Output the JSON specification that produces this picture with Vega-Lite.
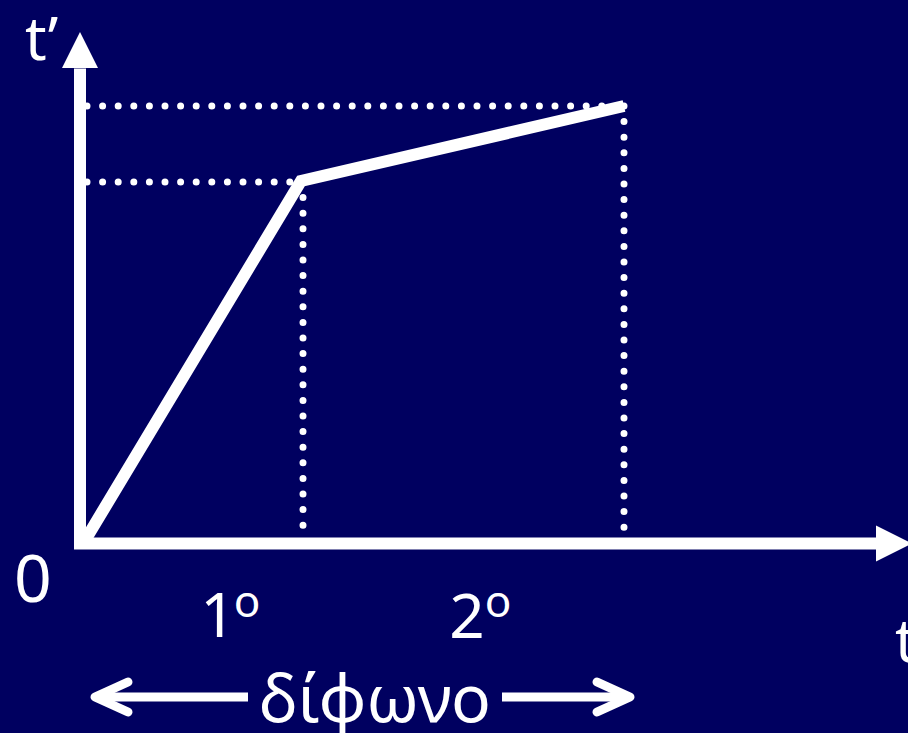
{
  "$schema": "https://vega.github.io/schema/vega-lite/v6.json",
  "width": 908,
  "height": 733,
  "padding": 0,
  "autosize": {"type": "none"},
  "background": "#000060",
  "config": {"view": {"stroke": null}, "font": "Noto Sans"},
  "datasets": {
    "axes": [
      {"name": "yaxis", "x": 0, "y": -0.055, "x2": 0, "y2": 4.75},
      {"name": "xaxis", "x": -0.06, "y": 0, "x2": 8.0, "y2": 0}
    ],
    "curve": [
      {"t": 0.05, "tp": 0.03},
      {"t": 2.21, "tp": 3.625},
      {"t": 5.44, "tp": 4.375}
    ],
    "guides": [
      {"x": 0.07, "y": 4.375, "x2": 5.44, "y2": 4.375},
      {"x": 0.07, "y": 3.615, "x2": 2.23, "y2": 3.615},
      {"x": 2.23, "y": 3.615, "x2": 2.23, "y2": 0.135},
      {"x": 5.44, "y": 4.375, "x2": 5.44, "y2": 0.135}
    ],
    "shafts": [
      {"x": 0.15, "y": -1.535, "x2": 1.68, "y2": -1.535},
      {"x": 4.22, "y": -1.535, "x2": 5.5, "y2": -1.535}
    ],
    "chevrons": [
      {"g": "left", "o": 1, "x": 0.48, "y": -1.385},
      {"g": "left", "o": 2, "x": 0.15, "y": -1.535},
      {"g": "left", "o": 3, "x": 0.48, "y": -1.685},
      {"g": "right", "o": 1, "x": 5.17, "y": -1.385},
      {"g": "right", "o": 2, "x": 5.5, "y": -1.535},
      {"g": "right", "o": 3, "x": 5.17, "y": -1.685}
    ],
    "heads": [
      {"dir": "up", "x": 0, "y": 4.935},
      {"dir": "right", "x": 8.14, "y": 0}
    ],
    "labels": [
      {"kind": "axis", "label": "t’", "x": -0.55, "y": 4.835},
      {"kind": "axis", "label": "t", "x": 8.15, "y": -1.185},
      {"kind": "zero", "label": "0", "x": -0.66, "y": -0.585},
      {"kind": "num", "label": "1", "x": 1.38, "y": -0.935},
      {"kind": "num", "label": "2", "x": 3.87, "y": -0.945},
      {"kind": "sup", "label": "ο", "x": 1.67, "y": -0.735},
      {"kind": "sup", "label": "ο", "x": 4.18, "y": -0.735},
      {"kind": "word", "label": "δίφωνο", "x": 2.95, "y": -1.785}
    ]
  },
  "encoding": {
    "x": {"field": "x", "type": "quantitative", "axis": null, "scale": {"domain": [-0.8, 8.28], "nice": false, "zero": false}},
    "y": {"field": "y", "type": "quantitative", "axis": null, "scale": {"domain": [-1.895, 5.435], "nice": false, "zero": false}}
  },
  "layer": [
    {
      "data": {"name": "guides"},
      "mark": {"type": "rule", "color": "white", "strokeWidth": 7, "strokeDash": [0, 15.6], "strokeCap": "round", "clip": false},
      "encoding": {"x2": {"field": "x2"}, "y2": {"field": "y2"}}
    },
    {
      "data": {"name": "axes"},
      "mark": {"type": "rule", "color": "white", "strokeWidth": 12, "strokeCap": "butt", "clip": false},
      "encoding": {"x2": {"field": "x2"}, "y2": {"field": "y2"}}
    },
    {
      "data": {"name": "heads"},
      "transform": [{"filter": "datum.dir == 'up'"}],
      "mark": {"type": "point", "shape": "M0,-1L1,1L-1,1Z", "filled": true, "color": "white", "opacity": 1, "size": 1296, "strokeWidth": 0, "clip": false}
    },
    {
      "data": {"name": "heads"},
      "transform": [{"filter": "datum.dir == 'right'"}],
      "mark": {"type": "point", "shape": "M1,0L-1,-1L-1,1Z", "filled": true, "color": "white", "opacity": 1, "size": 1296, "strokeWidth": 0, "clip": false}
    },
    {
      "data": {"name": "curve"},
      "mark": {"type": "line", "color": "white", "strokeWidth": 12, "strokeJoin": "miter", "strokeCap": "butt", "clip": false},
      "encoding": {
        "x": {"field": "t", "type": "quantitative"},
        "y": {"field": "tp", "type": "quantitative"}
      }
    },
    {
      "data": {"name": "shafts"},
      "mark": {"type": "rule", "color": "white", "strokeWidth": 9, "strokeCap": "butt", "clip": false},
      "encoding": {"x2": {"field": "x2"}, "y2": {"field": "y2"}}
    },
    {
      "data": {"name": "chevrons"},
      "mark": {"type": "line", "color": "white", "strokeWidth": 9, "strokeCap": "round", "strokeJoin": "round", "clip": false},
      "encoding": {
        "detail": {"field": "g"},
        "order": {"field": "o", "type": "quantitative"}
      }
    },
    {
      "data": {"name": "labels"},
      "transform": [{"filter": "datum.kind == 'axis'"}],
      "mark": {"type": "text", "color": "white", "fontSize": 60, "align": "left", "baseline": "alphabetic", "font": "Noto Sans"},
      "encoding": {"text": {"field": "label"}}
    },
    {
      "data": {"name": "labels"},
      "transform": [{"filter": "datum.kind == 'zero'"}],
      "mark": {"type": "text", "color": "white", "fontSize": 66, "align": "left", "baseline": "alphabetic", "font": "Noto Sans"},
      "encoding": {"text": {"field": "label"}}
    },
    {
      "data": {"name": "labels"},
      "transform": [{"filter": "datum.kind == 'num'"}],
      "mark": {"type": "text", "color": "white", "fontSize": 62, "align": "center", "baseline": "alphabetic", "font": "Noto Sans"},
      "encoding": {"text": {"field": "label"}}
    },
    {
      "data": {"name": "labels"},
      "transform": [{"filter": "datum.kind == 'sup'"}],
      "mark": {"type": "text", "color": "white", "fontSize": 44, "align": "center", "baseline": "alphabetic", "font": "Noto Sans"},
      "encoding": {"text": {"field": "label"}}
    },
    {
      "data": {"name": "labels"},
      "transform": [{"filter": "datum.kind == 'word'"}],
      "mark": {"type": "text", "color": "white", "fontSize": 66, "align": "center", "baseline": "alphabetic", "font": "Noto Sans"},
      "encoding": {"text": {"field": "label"}}
    }
  ]
}
